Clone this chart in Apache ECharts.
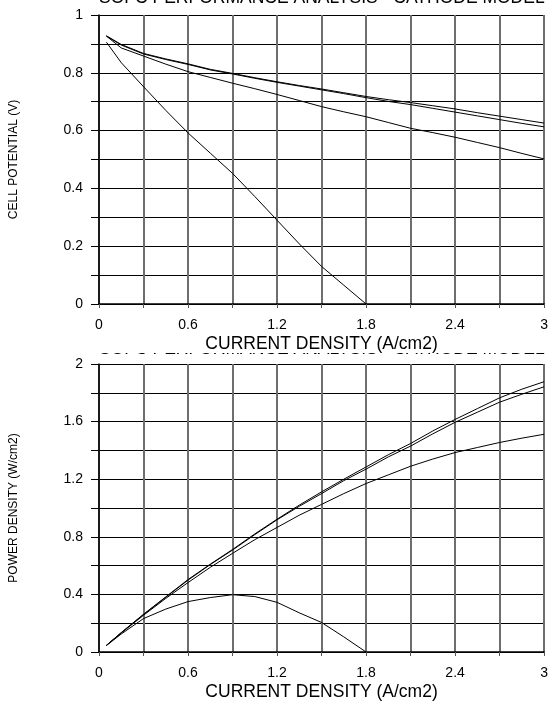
<!DOCTYPE html>
<html>
<head>
<meta charset="utf-8">
<script src="https://cdn.jsdelivr.net/npm/echarts@6/dist/echarts.min.js"></script>
<style>
  html, body { margin: 0; padding: 0; background: #fff; }
  #chart { width: 551px; height: 702px; }
</style>
</head>
<body>
<div id="chart"></div>
<script>
// 电流密度 (A/cm2)
var current = [0.05, 0.15, 0.3, 0.45, 0.6, 0.75, 0.9, 1.05, 1.2, 1.35, 1.5,
  1.65, 1.8, 1.95, 2.1, 2.25, 2.4, 2.55, 2.7, 2.85, 3.0];

// 电池电压 (V)
var voltA1 = [0.928, 0.898, 0.867, 0.848, 0.831, 0.812, 0.798, 0.783, 0.769, 0.756, 0.744,
  0.731, 0.718, 0.707, 0.697, 0.686, 0.675, 0.662, 0.650, 0.638, 0.626];
var voltA2 = [0.927, 0.896, 0.865, 0.846, 0.829, 0.810, 0.796, 0.781, 0.767, 0.754, 0.741,
  0.728, 0.714, 0.701, 0.690, 0.677, 0.664, 0.651, 0.638, 0.625, 0.613];
var voltB = [0.927, 0.886, 0.858, 0.830, 0.804, 0.784, 0.764, 0.745, 0.725, 0.704, 0.683,
  0.665, 0.648, 0.628, 0.608, 0.593, 0.577, 0.559, 0.541, 0.521, 0.502];
var voltC = [0.906, 0.835, 0.752, 0.67, 0.592, 0.522, 0.452, 0.372, 0.29, 0.208, 0.13, 0.065, 0];

// 功率密度 (W/cm2)
var powA1 = [0.046, 0.135, 0.262, 0.383, 0.503, 0.61, 0.712, 0.82, 0.922, 1.02, 1.112,
  1.2, 1.285, 1.37, 1.448, 1.535, 1.615, 1.69, 1.765, 1.825, 1.877];
var powA2 = [0.046, 0.134, 0.26, 0.38, 0.499, 0.607, 0.708, 0.815, 0.918, 1.012, 1.1,
  1.19, 1.27, 1.355, 1.43, 1.515, 1.595, 1.665, 1.735, 1.79, 1.842];
var powB = [0.046, 0.132, 0.255, 0.372, 0.482, 0.588, 0.685, 0.78, 0.865, 0.95, 1.025,
  1.1, 1.17, 1.23, 1.29, 1.34, 1.385, 1.42, 1.455, 1.485, 1.512];
var powC = [0.045, 0.125, 0.232, 0.298, 0.35, 0.378, 0.398, 0.385, 0.345, 0.272, 0.205, 0.105, 0];

var titleText = "SOFC PERFORMANCE ANALYSIS - CATHODE MODEL";
var font = "Liberation Sans";

function pairs(xs, ys) {
  return ys.map(function (y, i) { return [xs[i], y]; });
}

function line(values, idx) {
  return {
    type: "line",
    xAxisIndex: idx,
    yAxisIndex: idx,
    data: pairs(current, values),
    showSymbol: false,
    symbol: "none",
    silent: true,
    lineStyle: { color: "#000", width: 1 },
    z: 5,
  };
}

function xAxis(idx) {
  return {
    type: "value",
    gridIndex: idx,
    min: 0,
    max: 3,
    interval: 0.6,
    name: "CURRENT DENSITY (A/cm2)",
    nameLocation: "middle",
    nameGap: 31,
    nameTextStyle: { fontFamily: font, fontSize: 17.5, color: "#000" },
    axisLine: { lineStyle: { color: "#000", width: 1.5 } },
    axisTick: { show: true, length: 4, lineStyle: { color: "#555" } },
    minorTick: { show: true, splitNumber: 2, length: 4, lineStyle: { color: "#555" } },
    splitLine: { show: true, lineStyle: { color: "#6e6e6e", width: 2 } },
    minorSplitLine: { show: true, lineStyle: { color: "#6e6e6e", width: 2 } },
    axisLabel: { fontFamily: font, fontSize: 14, color: "#000", margin: 14 },
  };
}

function yAxis(idx, max, step, name) {
  return {
    type: "value",
    gridIndex: idx,
    min: 0,
    max: max,
    interval: step,
    name: name,
    nameLocation: "middle",
    nameGap: 79,
    nameTextStyle: { fontFamily: font, fontSize: 12, color: "#000" },
    axisLine: { show: true, lineStyle: { color: "#000", width: 1.5 } },
    axisTick: { show: true, length: 8, lineStyle: { color: "#000" } },
    minorTick: { show: true, splitNumber: 2, length: 8, lineStyle: { color: "#000" } },
    splitLine: { show: true, lineStyle: { color: "#000", width: 1 } },
    minorSplitLine: { show: true, lineStyle: { color: "#000", width: 1 } },
    axisLabel: { fontFamily: font, fontSize: 14, color: "#000", margin: 16 },
  };
}

var chart = echarts.init(document.getElementById("chart"));

var option = {
  backgroundColor: "#fff",
  animation: false,
  grid: [
    { left: 99, top: 15, width: 448, height: 289 },
    { left: 99, top: 364, width: 448, height: 289 },
  ],
  xAxis: [xAxis(0), xAxis(1)],
  yAxis: [
    yAxis(0, 1, 0.2, "CELL POTENTIAL (V)"),
    yAxis(1, 2, 0.4, "POWER DENSITY (W/cm2)"),
  ],
  graphic: [
    // 标题被裁掉，只露出下半部分
    {
      type: "text",
      z: -10,
      style: { x: 99, y: -2.2, text: titleText, fill: "#000",
        font: "17.5px " + font, verticalAlign: "middle" },
    },
    {
      type: "text",
      z: -10,
      style: { x: 99, y: 349.4, text: titleText, fill: "#000",
        font: "17.5px " + font, verticalAlign: "middle" },
    },
    {
      type: "rect",
      z: -5,
      shape: { x: 90, y: 335, width: 461, height: 18 },
      style: { fill: "#fff" },
    },
  ],
  series: [
    line(voltA1, 0), line(voltA2, 0), line(voltB, 0), line(voltC, 0),
    line(powA1, 1), line(powA2, 1), line(powB, 1), line(powC, 1),
  ],
};

chart.setOption(option);
</script>
</body>
</html>
